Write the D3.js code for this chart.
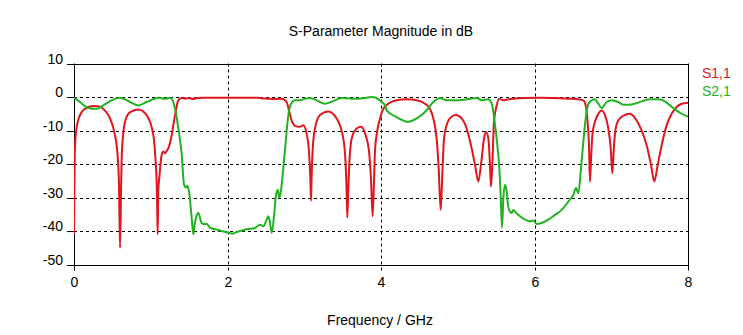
<!DOCTYPE html>
<html>
<head>
<meta charset="utf-8">
<script src="https://cdn.jsdelivr.net/npm/d3@7"></script>
<style>
  html, body { margin: 0; padding: 0; background: #fff; }
  svg { display: block; }
  text { font-family: "Liberation Sans", Arial, sans-serif; fill: #000; }
</style>
</head>
<body>
<svg id="chart" width="743" height="335"></svg>
<script>
// S1,1 (reflection) magnitude in dB
const freqS11 = [
  0.000, 0.004, 0.010, 0.020, 0.035, 0.060, 0.100, 0.150, 0.200, 0.270, 0.330, 0.400, 0.470, 0.530, 0.560, 0.585, 0.600, 0.615, 0.625, 0.665, 0.730, 0.840, 0.947, 1.034, 1.068, 1.075, 1.082, 1.090, 1.098, 1.112, 1.142, 1.165, 1.186, 1.210, 1.229, 1.273, 1.316, 1.359, 1.400, 1.450, 1.500, 1.550, 1.600, 1.700, 2.000,
  2.400, 2.445, 2.532, 2.620, 2.706, 2.770, 2.801, 2.836, 2.879, 2.944, 2.988, 3.031, 3.061, 3.079, 3.088, 3.096, 3.109, 3.140, 3.205, 3.314, 3.422, 3.509, 3.539, 3.552, 3.561, 3.574, 3.587, 3.618, 3.683, 3.739, 3.800, 3.843, 3.869, 3.891, 3.909, 3.922, 3.957, 3.990, 4.030,
  4.096, 4.204, 4.335, 4.465, 4.573, 4.638, 4.682, 4.725, 4.751, 4.777, 4.803, 4.821, 4.855, 4.920, 4.977, 5.051, 5.116, 5.181, 5.225, 5.268, 5.312, 5.342, 5.368, 5.399, 5.420, 5.433, 5.451, 5.472, 5.507, 5.542, 5.594, 5.659, 5.724, 5.855, 6.060,
  6.441, 6.571, 6.636, 6.667, 6.688, 6.710, 6.723, 6.736, 6.754, 6.788, 6.832, 6.875, 6.918, 6.962, 6.993, 7.014, 7.036, 7.058, 7.092, 7.157, 7.244, 7.331, 7.396, 7.461, 7.518, 7.561, 7.605, 7.657, 7.722, 7.787, 7.852, 7.918, 8.000
];
const s11 = [
  -41.0, -30.0, -17.0, -12.0, -9.0, -6.5, -4.5, -3.4, -2.9, -2.7, -2.8, -4.0, -6.4, -11.0, -15.3, -25.0, -45.0, -25.0, -16.0, -7.4, -4.5, -3.7, -5.4, -11.4, -21.0, -24.0, -30.0, -41.0, -28.0, -24.0, -17.3, -16.3, -16.8, -16.0, -15.3, -11.4, -5.4, -1.0, -0.3, -0.5, -0.3, -0.6, -0.3, -0.2, -0.2,
  -0.2, -0.4, -0.5, -0.6, -0.5, -1.5, -4.0, -7.0, -8.6, -8.9, -8.4, -11.0, -16.0, -24.0, -31.0, -24.0, -16.0, -9.4, -5.4, -4.3, -6.4, -12.4, -20.0, -28.0, -36.0, -27.0, -20.0, -12.4, -9.4, -8.9, -11.4, -16.0, -24.0, -35.6, -25.0, -16.0, -9.4, -6.2, -3.5,
  -2.0, -1.0, -0.7, -1.0, -2.0, -3.5, -6.4, -12.4, -21.0, -33.7, -21.0, -12.4, -8.4, -5.9, -5.4, -6.4, -9.4, -15.3, -20.3, -25.2, -18.3, -12.4, -10.4, -12.4, -20.3, -26.7, -20.0, -7.4, -2.5, -0.5, -1.0, -0.7, -0.5, -0.3, -0.2,
  -0.5, -0.7, -1.0, -2.5, -6.4, -14.4, -25.2, -19.0, -11.4, -7.4, -5.0, -4.0, -5.4, -9.4, -15.3, -22.8, -14.4, -9.4, -7.0, -5.6, -5.0, -7.0, -10.0, -14.4, -20.3, -25.2, -20.3, -14.4, -8.4, -5.0, -3.0, -2.0, -1.7
];

// S2,1 (transmission) magnitude in dB
const freqS21 = [
  0.000, 0.078, 0.165, 0.230, 0.295, 0.382, 0.490, 0.600, 0.708, 0.838, 0.947, 1.099, 1.186, 1.251, 1.286, 1.316, 1.360, 1.403, 1.433, 1.459, 1.481, 1.503, 1.533, 1.555, 1.572, 1.590, 1.620, 1.663, 1.707, 1.728, 1.772, 1.859, 2.024, 2.070,
  2.098, 2.228, 2.358, 2.423, 2.467, 2.510, 2.532, 2.554, 2.576, 2.606, 2.628, 2.654, 2.675, 2.697, 2.728, 2.758, 2.793, 2.828, 2.879, 2.944, 3.010, 3.075, 3.162, 3.270, 3.400, 3.487, 3.618, 3.705, 3.792, 3.879, 3.943, 4.009, 4.052,
  4.074, 4.204, 4.356, 4.465, 4.573, 4.682, 4.769, 4.856, 4.986, 5.116, 5.247, 5.312, 5.399, 5.442, 5.464, 5.486, 5.516, 5.542, 5.559, 5.577, 5.594, 5.616, 5.638, 5.659, 5.703, 5.724, 5.759, 5.811, 5.876, 5.941, 5.985, 6.028,
  6.093, 6.180, 6.267, 6.354, 6.441, 6.506, 6.541, 6.571, 6.606, 6.636, 6.667, 6.702, 6.745, 6.788, 6.832, 6.875, 6.940, 7.006, 7.092, 7.157, 7.222, 7.309, 7.396, 7.505, 7.613, 7.700, 7.765, 7.830, 7.918, 8.000
];
const s21 = [
  -0.2, -1.5, -3.0, -3.5, -3.5, -2.5, -1.0, -0.2, -1.2, -2.5, -1.5, -0.2, -0.5, -0.2, -1.0, -3.5, -9.4, -17.0, -26.0, -27.0, -26.5, -29.0, -36.0, -41.0, -38.0, -36.0, -34.6, -37.6, -38.0, -37.8, -39.0, -39.6, -40.6, -40.8,
  -40.5, -39.6, -39.1, -38.1, -38.6, -36.6, -35.6, -37.6, -40.6, -35.6, -30.0, -27.7, -30.0, -28.0, -21.0, -13.4, -5.4, -2.0, -1.0, -1.0, -0.5, -0.3, -1.0, -2.0, -1.0, -0.3, -0.5, -0.5, -0.3, 0.0, -0.3, -1.5, -2.5,
  -4.0, -6.0, -7.4, -6.4, -4.5, -1.5, -0.3, -1.0, -1.0, -0.7, -0.3, -1.0, -0.7, -2.0, -4.5, -8.4, -14.4, -21.3, -29.2, -39.0, -30.2, -26.2, -28.2, -33.0, -34.6, -33.7, -34.6, -35.6, -36.6, -37.1, -36.9, -37.9,
  -37.6, -36.6, -35.2, -33.7, -31.2, -29.2, -27.2, -28.7, -21.3, -13.4, -6.4, -2.0, -1.0, -0.7, -2.0, -3.3, -1.5, -1.0, -1.5, -2.3, -2.3, -2.0, -1.3, -0.7, -0.7, -1.3, -2.5, -3.7, -5.0, -5.9
];

const xTicks = [0, 2, 4, 6, 8];
const yTicks = [10, 0, -10, -20, -30, -40, -50];
const seriesNames = ["S1,1", "S2,1"];
const seriesColors = ["#e2141c", "#1fb41f"];

const svg = d3.select("#chart");
const plotLeft = 74, plotRight = 688, plotTop = 63.5, plotBottom = 264.5;

const x = d3.scaleLinear().domain([0, 8]).range([plotLeft, plotRight]);
const y = d3.scaleLinear().domain([-50, 10]).range([plotBottom, plotTop]);

// Title
svg.append("text")
  .attr("x", 381).attr("y", 36)
  .attr("text-anchor", "middle")
  .style("font-size", "14px")
  .text("S-Parameter Magnitude in dB");

// Horizontal grid (dashed) with solid outer frame lines
const g = svg.append("g");
yTicks.forEach(v => {
  const yy = Math.round(y(v)) + 0.5;
  const edge = (v === 10 || v === -50);
  g.append("line")
    .attr("x1", plotLeft - 7).attr("x2", plotLeft)
    .attr("y1", yy).attr("y2", yy)
    .attr("stroke", "#000");
  g.append("line")
    .attr("x1", plotLeft).attr("x2", plotRight)
    .attr("y1", yy).attr("y2", yy)
    .attr("stroke", "#000")
    .attr("stroke-dasharray", edge ? null : "3,3");
  g.append("text")
    .attr("x", plotLeft - 11).attr("y", yy - 1)
    .attr("text-anchor", "end")
    .style("font-size", "14px")
    .text(v);
});

// Vertical grid (dashed) with solid outer frame lines
xTicks.forEach(v => {
  const xx = Math.round(x(v)) + 0.5;
  const edge = (v === 0 || v === 8);
  g.append("line")
    .attr("x1", xx).attr("x2", xx)
    .attr("y1", plotTop).attr("y2", plotBottom + 6)
    .attr("stroke", "#000")
    .attr("stroke-dasharray", edge ? null : "3,3");
  g.append("text")
    .attr("x", xx).attr("y", plotBottom + 22)
    .attr("text-anchor", "middle")
    .style("font-size", "14px")
    .text(v);
});

// Axis title
svg.append("text")
  .attr("x", 380).attr("y", 325)
  .attr("text-anchor", "middle")
  .style("font-size", "14px")
  .text("Frequency / GHz");

// Curves: monotone interpolation keeps the notches sharp and the lobes round
const line = d3.line()
  .curve(d3.curveMonotoneX)
  .x(d => x(d[0]))
  .y(d => y(d[1]));

const series = [
  d3.zip(freqS11, s11),
  d3.zip(freqS21, s21)
];

svg.append("clipPath").attr("id", "plotclip")
  .append("rect").attr("x", plotLeft).attr("y", plotTop - 2)
  .attr("width", plotRight - plotLeft + 1).attr("height", plotBottom - plotTop + 4);

svg.append("g").attr("clip-path", "url(#plotclip)")
  .selectAll("path")
  .data(series)
  .join("path")
  .attr("d", line)
  .attr("fill", "none")
  .attr("stroke", (d, i) => seriesColors[i])
  .attr("stroke-width", 2)
  .attr("stroke-linejoin", "round");

// Legend
svg.append("g").selectAll("text")
  .data(seriesNames)
  .join("text")
  .attr("x", 702)
  .attr("y", (d, i) => 78 + i * 18)
  .style("font-size", "14px")
  .style("fill", (d, i) => seriesColors[i])
  .text(d => d);
</script>
</body>
</html>
